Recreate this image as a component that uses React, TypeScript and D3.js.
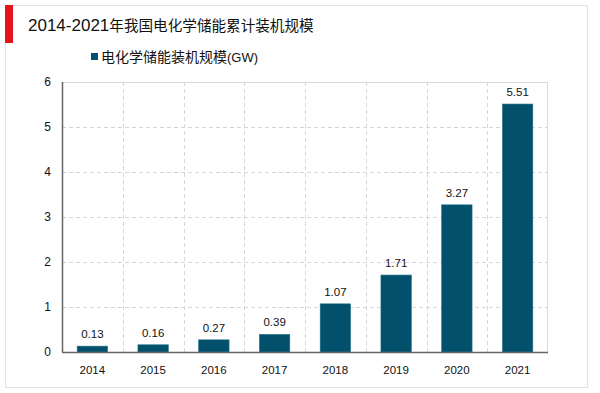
import { useEffect, useRef } from 'react';
import * as d3 from 'd3';

const years = ['2014', '2015', '2016', '2017', '2018', '2019', '2020', '2021'];
const capacity = [0.13, 0.16, 0.27, 0.39, 1.07, 1.71, 3.27, 5.51];
const yTicks = [0, 1, 2, 3, 4, 5, 6];
const titleYears = '2014-2021';
const titleText = '年我国电化学储能累计装机规模';
const seriesName = '电化学储能装机规模';
const seriesUnit = '(GW)';

const FONT = '"Liberation Sans", Arial, "Noto Sans CJK SC", sans-serif';

const App = () => {
  const svgRef = useRef<SVGSVGElement>(null);

  useEffect(() => {
    const width = 600;
    const height = 393;
    const margin = { top: 82, right: 52, bottom: 41, left: 62 };

    const root = d3.select(svgRef.current);
    root.selectAll('*').remove();
    root.attr('width', width).attr('height', height);

    // outer frame + red marker
    root.append('rect')
      .attr('x', 5.5).attr('y', 5.5)
      .attr('width', 582).attr('height', 382)
      .attr('fill', '#fff').attr('stroke', '#e2e2e2');
    root.append('rect')
      .attr('x', 5).attr('y', 5).attr('width', 8).attr('height', 38)
      .attr('fill', '#e8141b');

    const t = root.append('text')
      .attr('x', 28).attr('y', 31)
      .style('font-family', FONT)
      .attr('fill', '#111');
    t.append('tspan').style('font-size', '17px').text(titleYears);
    t.append('tspan').style('font-size', '14.6px').text(titleText);

    // legend
    root.append('rect')
      .attr('x', 91).attr('y', 53).attr('width', 7).attr('height', 7)
      .attr('fill', '#02506b');
    const lg = root.append('text')
      .attr('x', 101).attr('y', 61.5)
      .style('font-family', FONT)
      .attr('fill', '#111');
    lg.append('tspan').style('font-size', '14px').text(seriesName);
    lg.append('tspan').style('font-size', '13px').text(seriesUnit);

    const innerW = width - margin.left - margin.right;
    const innerH = height - margin.top - margin.bottom;

    const g = root.append('g')
      .attr('transform', `translate(${margin.left},${margin.top})`);

    const x = d3.scaleBand().domain(years).range([0, innerW]).paddingInner(0.5).paddingOuter(0.25);
    const xb = d3.scaleBand().domain(years).range([0, innerW]);
    const y = d3.scaleLinear().domain([0, 6]).range([innerH, 0]);

    // horizontal dashed grid
    g.selectAll('.hgrid')
      .data(yTicks.filter(d => d > 0 && d < 6))
      .enter().append('line')
      .attr('x1', 0).attr('x2', innerW)
      .attr('y1', d => Math.round(y(d)) + 0.5).attr('y2', d => Math.round(y(d)) + 0.5)
      .attr('stroke', '#d6d6d6').attr('stroke-dasharray', '4,3');

    // vertical dashed grid between categories
    g.selectAll('.vgrid')
      .data(years.slice(1))
      .enter().append('line')
      .attr('x1', d => Math.round(xb(d)!) + 0.5).attr('x2', d => Math.round(xb(d)!) + 0.5)
      .attr('y1', 0).attr('y2', innerH)
      .attr('stroke', '#d6d6d6').attr('stroke-dasharray', '4,3');

    // top and right border
    g.append('path')
      .attr('d', `M0,0.5H${innerW - 0.5}V${innerH}`)
      .attr('fill', 'none').attr('stroke', '#d9d9d9');

    // bars
    g.selectAll('.bar')
      .data(capacity)
      .enter().append('rect')
      .attr('x', (_, i) => x(years[i])!)
      .attr('y', d => y(d))
      .attr('width', x.bandwidth())
      .attr('height', d => innerH - y(d))
      .attr('fill', '#02506b')
      .attr('stroke', '#1f6f86').attr('stroke-width', 0.6);

    // value labels
    g.selectAll('.val')
      .data(capacity)
      .enter().append('text')
      .attr('x', (_, i) => x(years[i])! + x.bandwidth() / 2)
      .attr('y', d => y(d) - 8)
      .attr('text-anchor', 'middle')
      .style('font-family', FONT).style('font-size', '11.5px')
      .attr('fill', '#111')
      .text(d => d.toFixed(2));

    // axes lines
    g.append('line')
      .attr('x1', 0.5).attr('x2', 0.5).attr('y1', 0).attr('y2', innerH)
      .attr('stroke', '#666').attr('stroke-width', 1.5);
    g.append('line')
      .attr('x1', 0).attr('x2', innerW).attr('y1', innerH + 0.5).attr('y2', innerH + 0.5)
      .attr('stroke', '#666').attr('stroke-width', 1.5);

    // y tick labels
    g.selectAll('.ytick')
      .data(yTicks)
      .enter().append('text')
      .attr('x', -11)
      .attr('y', d => y(d) + 4)
      .attr('text-anchor', 'end')
      .style('font-family', FONT).style('font-size', '12px')
      .attr('fill', '#111')
      .text(d => String(d));

    // x tick labels
    g.selectAll('.xtick')
      .data(years)
      .enter().append('text')
      .attr('x', d => xb(d)! + xb.bandwidth() / 2)
      .attr('y', innerH + 22)
      .attr('text-anchor', 'middle')
      .style('font-family', FONT).style('font-size', '11.5px')
      .attr('fill', '#111')
      .text(d => d);
  }, []);

  return <svg ref={svgRef} style={{ position: 'absolute', left: 0, top: 0 }}></svg>;
};

export default App;
